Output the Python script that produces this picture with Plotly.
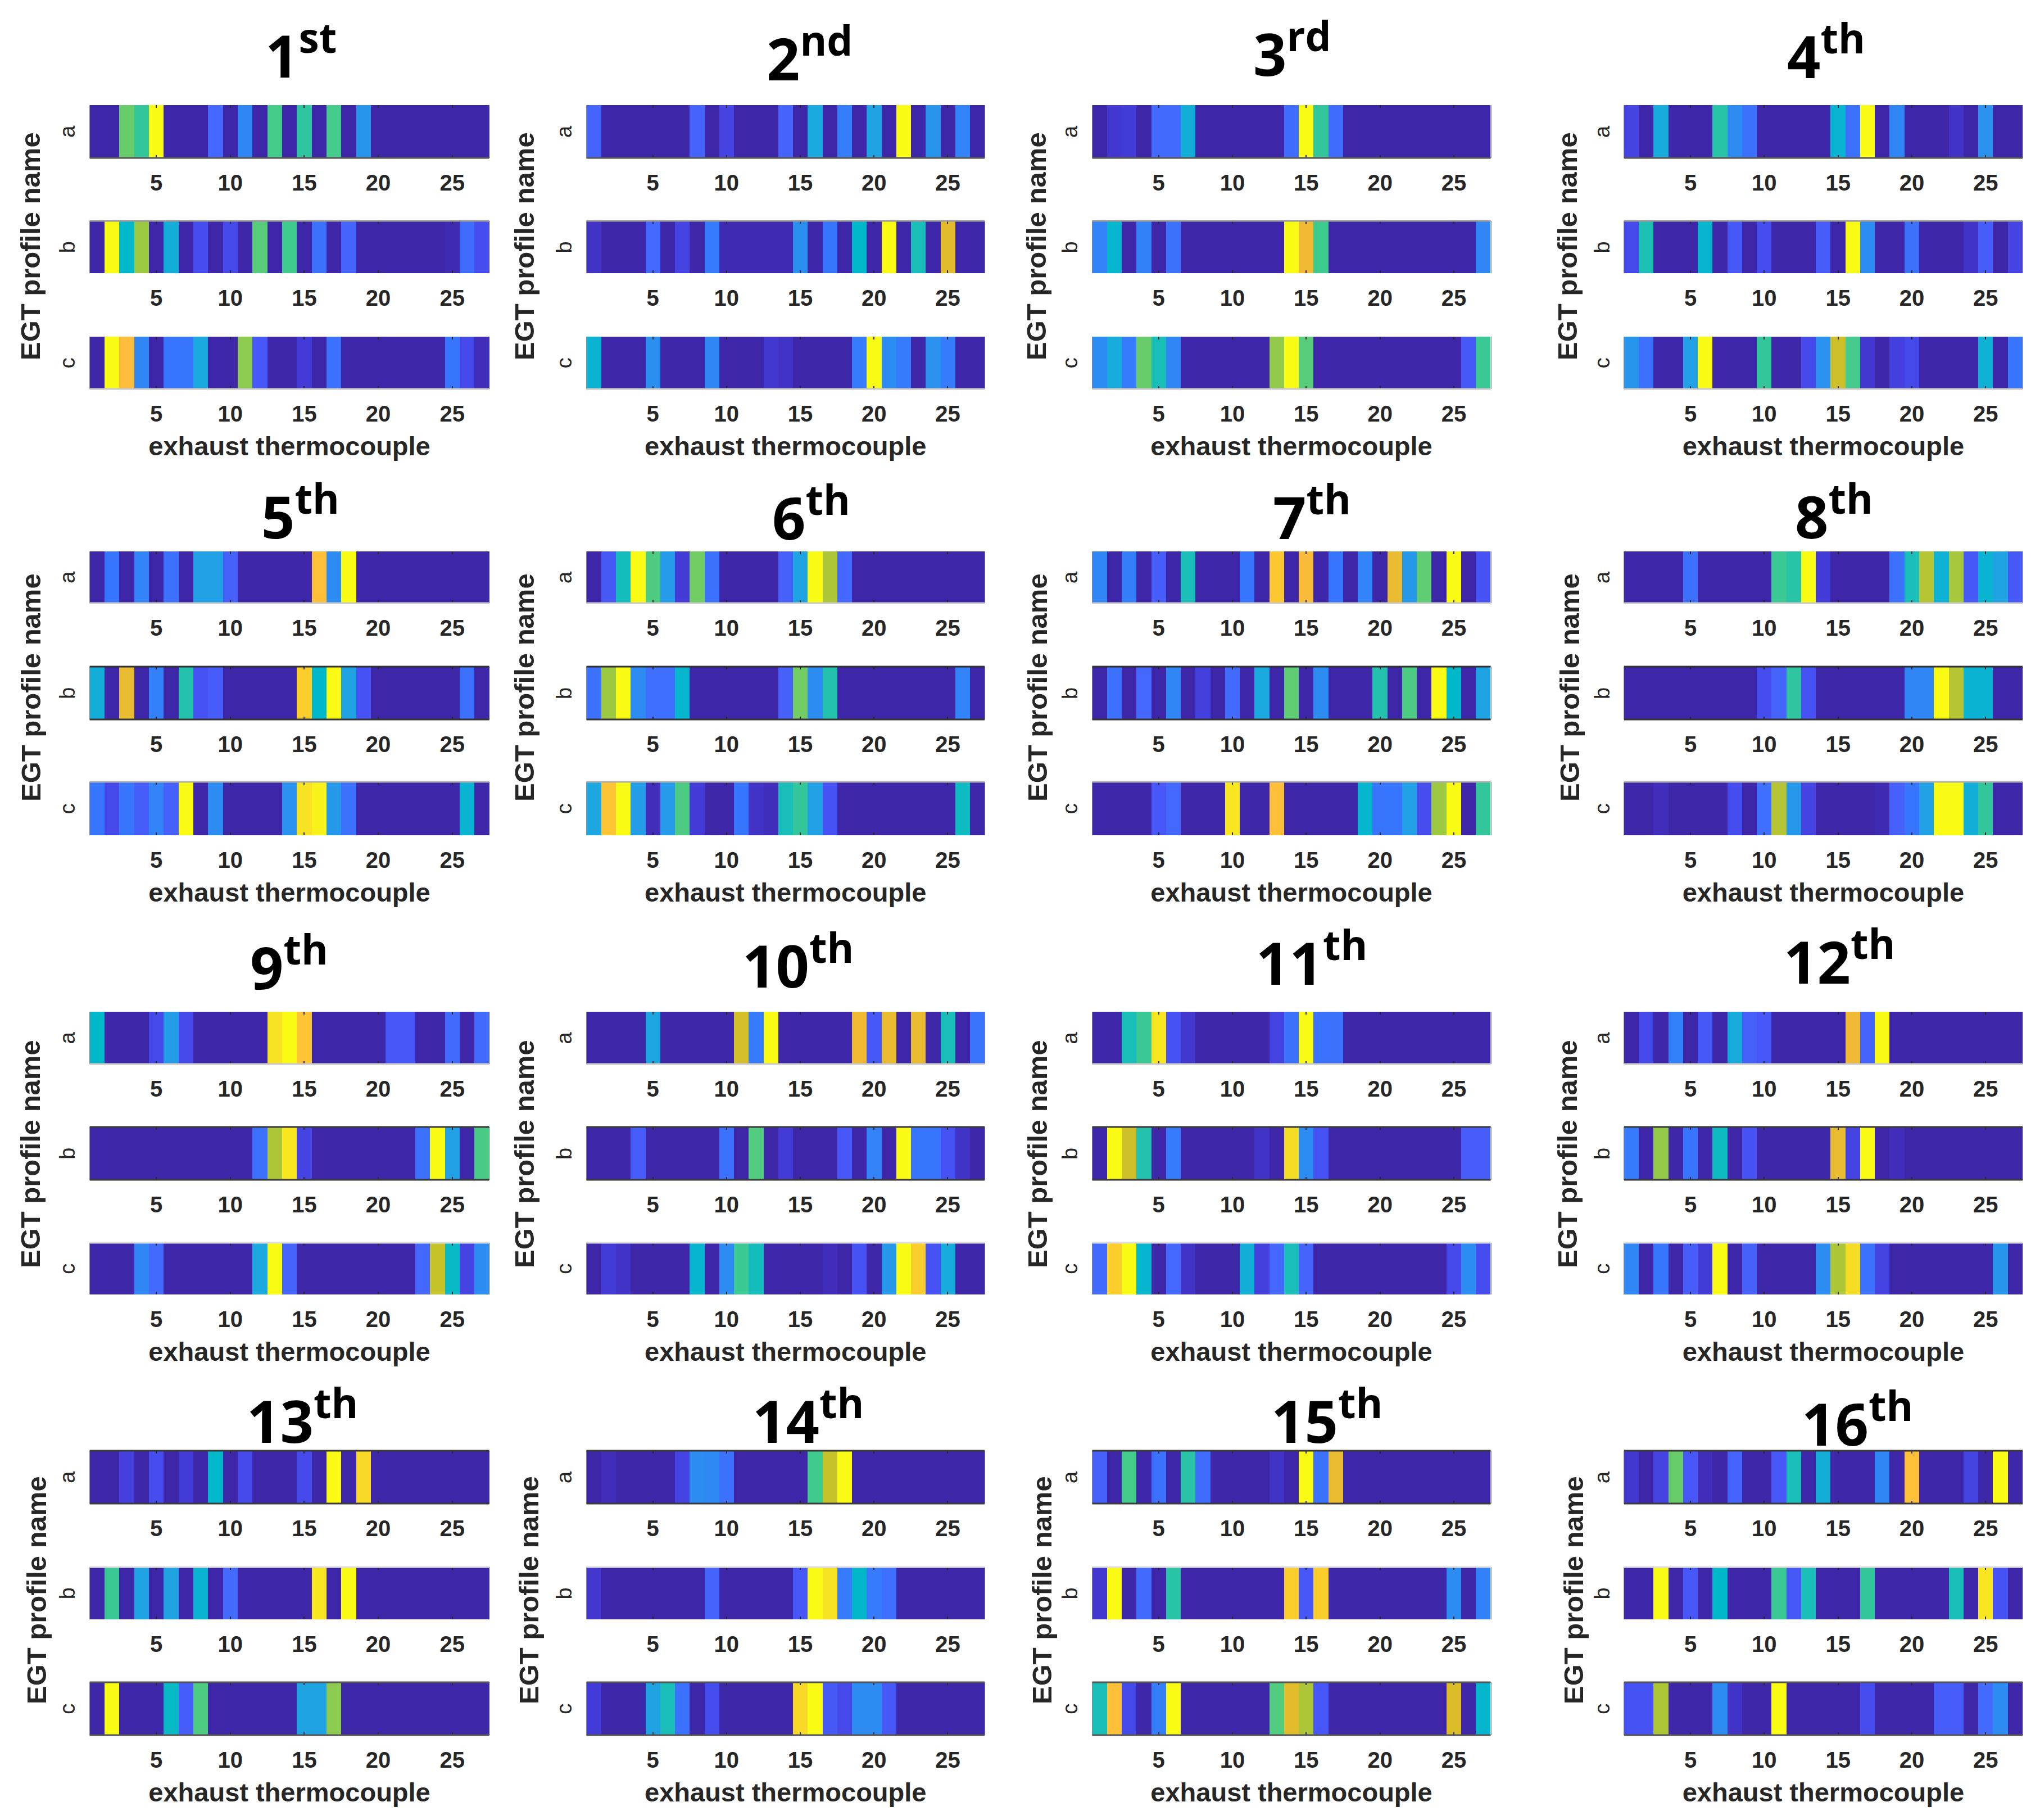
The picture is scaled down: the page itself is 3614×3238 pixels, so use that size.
import plotly.graph_objects as go

W, H = 3614, 3238

THERMOCOUPLES = list(range(1, 28))
X_TICKS = [5, 10, 15, 20, 25]
X_TITLE = "exhaust thermocouple"
Y_TITLE = "EGT profile name"
ORDINALS = ["1st", "2nd", "3rd", "4th", "5th", "6th", "7th", "8th", "9th", "10th", "11th", "12th", "13th", "14th", "15th", "16th"]

P01_A = [0,0,.64,.55,1,0,0,0,.16,0,.28,0,.58,0,.54,0,.58,0,.33,0,0,0,0,0,0,0,0]
P01_B = [0,1,.46,.7,0,.42,0,.09,0,.08,0,.62,0,.57,0,.2,0,.15,0,0,0,0,0,0,.01,.18,.09]
P01_C = [0,1,.84,.28,0,.22,.22,.4,0,0,.68,.11,0,0,.05,0,.2,0,0,0,0,0,0,0,.22,.08,.02]
P02_A = [.15,0,0,0,0,0,0,.15,0,.07,0,0,0,.15,0,.4,0,.25,0,.38,0,1,0,.33,0,.27,0]
P02_B = [.03,0,0,0,.16,0,.07,0,.24,.01,.01,.01,.01,.01,.31,0,.22,0,.46,0,1,0,.5,0,.79,0,0]
P02_C = [.44,0,0,0,.31,0,0,0,.28,0,0,0,.04,.03,0,0,0,0,.24,1,.3,.24,0,.32,.24,0,0]
P03_A = [0,.04,.05,0,.17,.17,.42,0,0,0,0,0,0,.18,1,.55,.18,0,0,0,0,0,0,0,0,0,0]
P03_B = [.27,.45,0,.26,0,.2,0,0,0,0,0,0,0,1,.81,.57,0,0,0,0,0,0,0,0,0,0,.28]
P03_C = [.3,.41,.24,.64,.5,.28,0,0,0,0,0,0,.69,1,.62,0,0,0,0,0,0,0,0,0,0,.12,.56]
P04_A = [.07,0,.41,0,0,0,.53,.3,.2,0,0,0,0,0,.44,.2,1,0,.28,0,0,0,.03,0,.32,0,0]
P04_B = [.08,.51,0,0,0,.45,0,.12,0,.09,0,0,0,.13,0,1,.3,0,0,.2,0,0,0,.03,.13,0,.07]
P04_C = [.33,.2,0,0,.37,1,0,0,0,.55,0,0,.08,.32,.76,.58,.04,0,.06,.08,0,0,0,0,.43,0,.22]
P05_A = [0,.22,0,.27,0,.2,0,.37,.37,.14,0,0,0,0,0,.85,.3,1,0,0,0,0,0,0,0,0,0]
P05_B = [.42,0,.8,0,.26,0,.52,.1,.13,0,0,0,0,0,.89,.46,1,.38,.1,0,0,0,0,0,0,.2,0]
P05_C = [.22,.08,.22,.13,.27,.14,1,0,.3,0,0,0,0,.32,.94,.98,.34,.2,0,0,0,0,0,0,0,.44,0]
P06_A = [0,.12,.49,1,.6,.35,.05,.65,.2,0,0,0,0,.14,.38,1,.72,.16,0,0,0,0,0,0,0,0,0]
P06_B = [.2,.7,1,.3,.19,.19,.45,0,0,0,0,0,0,.14,.65,.3,.52,0,0,0,0,0,0,0,0,.27,0]
P06_C = [.39,.86,1,.36,.02,.35,.6,.05,0,0,.22,.03,.02,.5,.55,.37,.1,0,0,0,0,0,0,0,0,.48,0]
P07_A = [.28,0,.25,0,.13,0,.5,0,0,0,.22,0,.87,0,.83,0,.22,0,.27,0,.8,.34,.63,0,1,0,.1]
P07_B = [0,.2,0,.16,0,.28,0,.06,0,.17,0,.4,0,.63,0,.3,0,0,0,.52,0,.6,0,1,.46,0,.38]
P07_C = [0,0,0,0,.11,.16,0,0,0,.95,0,0,.85,0,0,0,0,0,.45,.22,.22,.37,.09,.7,1,0,.55]
P08_A = [0,0,0,0,.2,0,0,0,0,0,.56,.53,1,.05,0,0,0,0,.2,.5,.73,.43,.71,.12,.44,.38,.12]
P08_B = [0,0,0,0,0,0,0,0,0,.09,.15,.54,.1,0,0,0,0,0,0,.28,.28,1,.73,.44,.44,0,0]
P08_C = [0,0,.02,0,0,0,0,.09,0,.19,.73,.34,.07,0,0,0,0,.01,.14,.22,.37,1,1,.42,.55,0,0]
P09_A = [.46,0,0,0,.08,.36,.08,0,0,0,0,0,.94,1,.86,0,0,0,0,0,.11,.11,0,0,.17,0,.17]
P09_B = [0,0,0,0,0,0,0,0,0,0,0,.2,.72,.95,.07,0,0,0,0,0,0,0,.2,1,.37,0,.59]
P09_C = [0,0,0,.28,.17,0,0,0,0,0,0,.4,1,.15,0,0,0,0,0,0,0,0,.16,.75,.47,.07,.3]
P10_A = [0,0,0,0,.39,0,0,0,0,0,.77,.24,1,0,0,0,0,0,.81,.12,.8,0,.8,0,.5,0,.21]
P10_B = [0,0,0,.13,0,0,0,0,0,.2,0,.61,0,.05,0,0,0,.11,0,.27,0,1,.22,.22,.1,.03,0]
P10_C = [0,.05,.03,0,0,0,0,.45,0,.3,.56,.49,0,0,0,0,.02,0,.1,0,.34,1,.89,.1,.41,0,0]
P11_A = [0,0,.5,.56,.95,.1,.04,0,0,0,0,0,.07,.2,1,.2,.2,0,0,0,0,0,0,0,0,0,0]
P11_B = [0,1,.76,.52,0,.24,0,0,0,0,0,.03,0,.93,.3,.1,0,0,0,0,0,0,0,0,0,.13,.13]
P11_C = [.17,.89,1,.45,0,.16,.03,0,0,0,.42,.06,.16,.5,.15,0,0,0,0,0,0,0,0,0,.08,.3,.09]
P12_A = [0,.08,0,.26,0,.12,0,.41,.14,.11,0,0,0,0,0,.81,.15,1,0,0,0,0,0,0,0,0,0]
P12_B = [.24,0,.69,0,.22,0,.48,0,.1,0,0,0,0,0,.8,.07,1,0,.02,0,0,0,0,0,0,0,0]
P12_C = [.28,0,.22,0,.13,.05,1,0,.14,0,0,0,0,.3,.72,.93,.2,.07,0,0,0,0,0,0,0,.33,0]
P13_A = [0,0,.06,0,.09,0,.05,0,.46,0,.08,0,0,0,.08,0,1,0,.92,0,0,0,0,0,0,0,0]
P13_B = [0,.56,0,.38,0,.38,0,.44,0,.17,0,0,0,0,0,.95,0,1,0,0,0,0,0,0,0,0,0]
P13_C = [0,1,0,0,0,.47,.13,.6,0,0,0,0,0,0,.38,.38,.68,0,0,0,0,0,0,0,0,0,0]
P14_A = [0,.02,0,0,0,0,.07,.3,.29,.2,0,0,0,0,0,.57,.75,1,0,0,0,0,0,0,0,0,0]
P14_B = [.04,0,0,0,0,0,0,0,.15,0,0,0,0,0,.11,1,.94,.24,.46,.24,.19,0,0,0,0,0,0]
P14_C = [.05,0,0,0,.38,.5,.2,0,.09,0,0,0,0,0,.92,1,.12,.08,.3,.3,.12,0,0,0,0,0,0]
P15_A = [.14,0,.58,0,.2,0,.53,.18,0,0,0,0,.03,0,1,.2,.8,0,0,0,0,0,0,0,0,0,0]
P15_B = [.04,1,0,.17,0,.53,0,0,0,0,0,0,0,.89,.11,.89,0,0,0,0,0,0,0,0,.3,0,.26]
P15_C = [.5,.85,.08,0,.25,1,0,0,0,0,0,0,.61,.79,.72,.11,0,0,0,0,0,0,0,0,.78,0,.45]
P16_A = [.04,0,.07,.64,.11,.02,0,.15,0,0,.11,.5,0,.42,0,0,0,.28,0,.85,0,0,0,.07,0,1,0]
P16_B = [0,0,1,0,.11,0,.46,0,0,0,.56,.12,.5,0,0,0,.55,0,0,0,0,0,.5,0,.95,.1,0]
P16_C = [.1,.1,.72,0,0,0,.3,.03,0,0,1,0,0,0,0,0,.09,0,0,0,0,.13,.13,0,.17,.3,0]

PANELS = [
    (P01_A, P01_B, P01_C), (P02_A, P02_B, P02_C), (P03_A, P03_B, P03_C), (P04_A, P04_B, P04_C),
    (P05_A, P05_B, P05_C), (P06_A, P06_B, P06_C), (P07_A, P07_B, P07_C), (P08_A, P08_B, P08_C),
    (P09_A, P09_B, P09_C), (P10_A, P10_B, P10_C), (P11_A, P11_B, P11_C), (P12_A, P12_B, P12_C),
    (P13_A, P13_B, P13_C), (P14_A, P14_B, P14_C), (P15_A, P15_B, P15_C), (P16_A, P16_B, P16_C),
]
PROFILE_NAMES = ["a", "b", "c"]

PARULA = [
    [0.00, "#3E26A8"], [0.05, "#433BD8"], [0.10, "#4752F4"], [0.16, "#4468FD"], [0.22, "#3875FE"],
    [0.30, "#2D8CF2"], [0.40, "#1CA9DF"], [0.46, "#01B8CA"], [0.52, "#24C1AE"], [0.57, "#3FCA8E"],
    [0.62, "#57CC7A"], [0.65, "#72CC64"], [0.70, "#9DC942"], [0.75, "#C5C22A"], [0.78, "#DCBD29"],
    [0.81, "#F0BA35"], [0.84, "#FEBD3C"], [0.89, "#FCCE2C"], [0.93, "#F6DD25"], [1.00, "#F9FB15"],
]

# Layout in pixels of the page
COL_X = [(159.6, 870.5), (1043.5, 1752), (1943.5, 2652.6), (2889.8, 3599)]
ROW_Y = [
    [(187, 281), (393, 486), (599, 692)],
    [(981, 1073), (1186, 1280), (1391, 1486)],
    [(1800, 1893), (2005, 2099), (2211, 2303)],
    [(2581, 2675), (2788, 2881), (2993, 3087)],
]
# (top colour, bottom colour) of each strip's frame; the scanned figure resampled these unevenly
EDGE = [
    [(None, "#555555"), ("#999999", None), (None, "#c8c8c8")],
    [(None, "#c8c8c8"), ("#333333", "#333333"), ("#b0b0b0", None)],
    [(None, "#c8c8c8"), ("#3a3a3a", "#3a3a3a"), ("#dddddd", None)],
    [("#3a3a3a", "#3a3a3a"), ("#dddddd", None), ("#555555", "#555555")],
]
TITLE_X = [535, 1440, 2299, 3249, 534, 1443, 2334, 3263, 514, 1420, 2334, 3273, 538, 1438, 2361, 3305]
TITLE_BOTTOM = [138, 143, 135, 139, 958, 960, 959, 958, 1760, 1757, 1752, 1750, 2567, 2567, 2567, 2572]
YLABEL_X = [[54, 933, 1844, 2789], [55, 933, 1846, 2793], [54, 933, 1846, 2789], [65, 941, 1854, 2800]]
YLABEL_Y = [438, 1223, 2053, 2829]

TXT = "#262626"
FONT = "Liberation Sans"

def fx(v):
    return v / W

def fy(v):
    return 1 - v / H

fig = go.Figure()
annotations = []
shapes = []
axis_n = 0
for p, rows in enumerate(PANELS):
    r, c = divmod(p, 4)
    for k, vals in enumerate(rows):
        assert len(vals) == 27, (p, k, len(vals))
        axis_n += 1
        suffix_n = "" if axis_n == 1 else str(axis_n)
        xname, yname = f"x{suffix_n}", f"y{suffix_n}"
        fig.add_trace(go.Heatmap(
            z=[vals], x=THERMOCOUPLES, y=[PROFILE_NAMES[k]],
            colorscale=PARULA, zmin=0, zmax=1, showscale=False,
            xaxis=xname, yaxis=yname, xgap=0, ygap=0,
        ))
        x0, x1 = COL_X[c]
        y0, y1 = ROW_Y[r][k]
        xa = dict(
            domain=[fx(x0), fx(x1)], anchor=yname, range=[0.5, 27.5],
            tickmode="array", tickvals=X_TICKS, ticktext=[str(t) for t in X_TICKS],
            ticks="inside", ticklen=5, tickwidth=2, tickcolor=TXT, mirror="ticks",
            ticklabelstandoff=17, showgrid=False, zeroline=False, showline=False,
            tickfont=dict(family=FONT, size=40, color=TXT, weight="bold"),
        )
        if k == 2:
            xa["title"] = dict(text=X_TITLE, standoff=20,
                               font=dict(family=FONT, size=47, color=TXT, weight="bold"))
        ya = dict(
            domain=[fy(y1), fy(y0)], anchor=xname, type="category",
            tickmode="array", tickvals=[PROFILE_NAMES[k]], ticktext=[PROFILE_NAMES[k]],
            tickangle=-90, ticks="", ticklabelstandoff=10, ticklabelshift=6,
            showgrid=False, zeroline=False,
            showline=True, mirror=True, linecolor="#8c8c8c", linewidth=1,
            tickfont=dict(family=FONT, size=38, color=TXT),
        )
        fig.layout[f"xaxis{suffix_n}"] = xa
        fig.layout[f"yaxis{suffix_n}"] = ya
        for colour, edge in zip(EDGE[r][k], (1, 0)):
            if colour:
                shapes.append(dict(
                    type="line", xref=f"{xname} domain", yref=f"{yname} domain",
                    x0=0, x1=1, y0=edge, y1=edge, layer="above",
                    line=dict(color=colour, width=3),
                ))
    label = ORDINALS[p]
    num, suffix = label[:-2], label[-2:]
    annotations.append(dict(
        text=f"{num}<sup>{suffix}</sup>", xref="paper", yref="paper",
        x=fx(TITLE_X[p]), y=fy(TITLE_BOTTOM[p] + 32), xanchor="center", yanchor="bottom",
        showarrow=False, font=dict(family="Open Sans", size=104, color="black", weight="bold"),
    ))
for r in range(4):
    for c in range(4):
        annotations.append(dict(
            text=Y_TITLE, xref="paper", yref="paper",
            x=fx(YLABEL_X[r][c]), y=fy(YLABEL_Y[r]), xanchor="center", yanchor="middle",
            textangle=-90, showarrow=False,
            font=dict(family=FONT, size=49, color=TXT, weight="bold"),
        ))

fig.update_layout(
    width=W, height=H, margin=dict(l=0, r=0, t=0, b=0),
    paper_bgcolor="white", plot_bgcolor="white", showlegend=False,
    annotations=annotations, shapes=shapes,
)
fig.write_html("out.html", config={"displayModeBar": False},
               post_script="document.body.style.margin='0';")
